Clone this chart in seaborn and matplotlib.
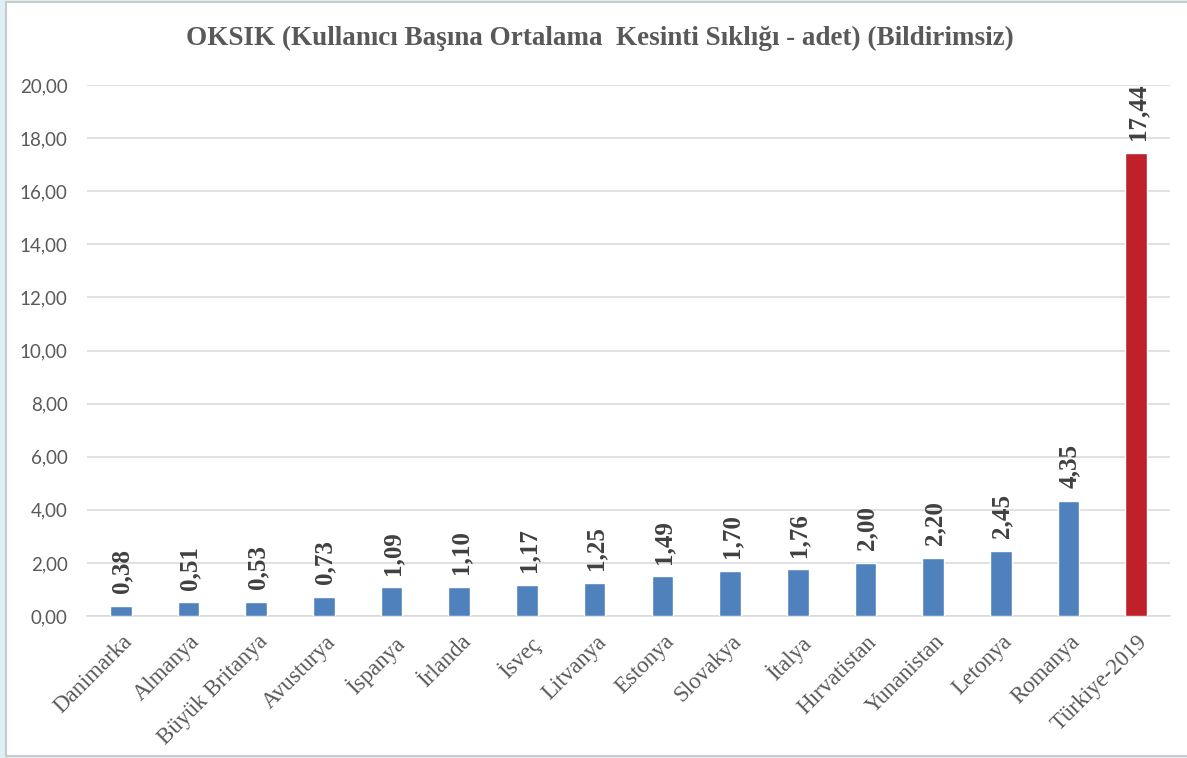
import matplotlib
matplotlib.use("Agg")
import matplotlib.pyplot as plt
from matplotlib.patches import Rectangle
from matplotlib.transforms import ScaledTranslation
import seaborn as sns
import pandas as pd

# Average interruption frequency per customer (unannounced), by country
countries = ["Danimarka", "Almanya", "Büyük Britanya", "Avusturya", "İspanya",
             "İrlanda", "İsveç", "Litvanya", "Estonya", "Slovakya", "İtalya",
             "Hırvatistan", "Yunanistan", "Letonya", "Romanya", "Türkiye-2019"]
values = [0.38, 0.51, 0.53, 0.73, 1.09, 1.10, 1.17, 1.25, 1.49, 1.70, 1.76,
          2.00, 2.20, 2.45, 4.35, 17.44]
y_ticks = [0, 2, 4, 6, 8, 10, 12, 14, 16, 18, 20]

BLUE = "#4f81bd"
RED = "#c0202a"
highlight = "Türkiye-2019"

df = pd.DataFrame({"country": countries, "value": values})
palette = {c: (RED if c == highlight else BLUE) for c in countries}

sns.set_theme(style="white")
plt.rcParams["font.family"] = ["Liberation Serif", "DejaVu Serif"]

fig = plt.figure(figsize=(11.87, 7.58), dpi=100)
fig.patch.set_facecolor("#dcf0f6")
# white chart panel with a thin grey frame, kept behind the axes
fig.patches.append(Rectangle((6 / 1187, 2 / 758), 1.0, 754 / 758,
                             transform=fig.transFigure, facecolor="white",
                             edgecolor="#c9c9c9", linewidth=1.5, zorder=-10))

ax = fig.add_axes([87 / 1187, 1 - 616 / 758, (1170 - 87) / 1187, (616 - 85) / 758])
ax.set_facecolor("none")

sns.barplot(data=df, x="country", y="value", hue="country", palette=palette,
            order=countries, hue_order=countries, width=0.32, legend=False,
            saturation=1, ax=ax, zorder=3)

ax.set_ylim(0, 20)
ax.set_xlim(-0.5, len(countries) - 0.5)
ax.set_yticks(y_ticks)
ax.set_yticklabels([f"{t:.2f}".replace(".", ",") for t in y_ticks],
                   family=["Lato", "DejaVu Sans"], fontsize=13.5, color="#595959")
ax.yaxis.grid(True, color="#d9d9d9", linewidth=1.1, zorder=0)
ax.set_axisbelow(True)
for side in ["left", "right", "top"]:
    ax.spines[side].set_visible(False)
ax.spines["bottom"].set_color("#d9d9d9")
ax.spines["bottom"].set_linewidth(1.1)
ax.tick_params(axis="both", length=0)
ax.tick_params(axis="y", pad=14)
ax.set_xlabel("")
ax.set_ylabel("")

ax.set_xticks(range(len(countries)))
ax.set_xticklabels(countries, rotation=45, ha="right", rotation_mode="anchor",
                   fontsize=16.5, color="#595959")
ax.tick_params(axis="x", pad=11)
shift = ScaledTranslation(1 / 100, 0, fig.dpi_scale_trans)
for lbl in ax.get_xticklabels():
    lbl.set_transform(lbl.get_transform() + shift)

# value labels above each bar
for i, v in enumerate(values):
    ax.annotate(f"{v:.2f}".replace(".", ","), (i, v), xytext=(1, 9),
                textcoords="offset points", rotation=90, ha="center",
                va="bottom", fontsize=18, fontweight="bold", color="#404040")

fig.text(0.505, 1 - 38 / 758,
         "OKSIK (Kullanıcı Başına Ortalama  Kesinti Sıklığı - adet) (Bildirimsiz)",
         ha="center", va="center", fontsize=19.5, fontweight="bold",
         color="#595959")

fig.savefig("out.png", dpi=100, facecolor=fig.get_facecolor())
